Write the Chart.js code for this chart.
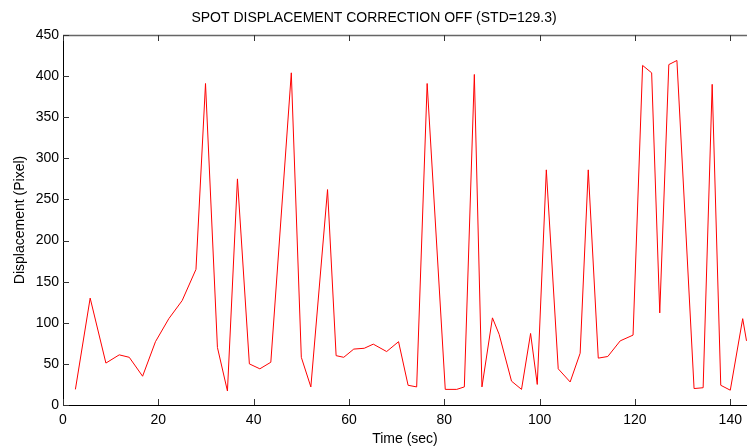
<!DOCTYPE html>
<html>
<head>
<meta charset="utf-8">
<script src="https://cdn.jsdelivr.net/npm/chart.js@4.4.0/dist/chart.umd.min.js"></script>
<style>
  body { margin: 0; background: #fff; }
  #wrap { width: 749px; height: 448px; }
</style>
</head>
<body>
<div id="wrap"><canvas id="spotChart"></canvas></div>
<script>
const timeSec = [2.6, 5.7, 9.0, 11.8, 13.9, 16.7, 19.4, 22.2, 25.0, 27.9,
    29.9, 32.4, 34.5, 36.6, 39.1, 41.3, 43.6, 47.9, 50.0, 52.0,
    55.5, 57.3, 58.9, 61.0, 63.2, 65.1, 67.9, 70.4, 72.4, 74.2,
    76.4, 80.2, 82.6, 84.2, 86.3, 87.9, 90.1, 91.5, 94.1, 96.2,
    98.1, 99.5, 101.4, 103.9, 106.4, 108.5, 110.2, 112.3, 114.3, 116.9,
    119.6, 121.6, 123.5, 125.2, 127.1, 128.8, 132.4, 134.3, 136.2, 138.0,
    140.0, 142.6, 143.4]
const displacement = [19, 130, 51, 61, 58, 35, 77, 105, 127, 165,
    391, 70, 17, 275, 50, 44, 52, 404, 58, 22,
    262, 60, 58, 68, 69, 74, 65, 77, 24, 22,
    391, 19, 19, 22, 402, 22, 106, 86, 29, 19,
    87, 25, 286, 44, 28, 63, 286, 57, 59, 78,
    85, 413, 404, 112, 414, 419, 20, 21, 390, 24,
    18, 105, 78]
const xTicks = [0, 20, 40, 60, 80, 100, 120, 140]
const yTicks = [0, 50, 100, 150, 200, 250, 300, 350, 400, 450]

const font = 'Arial, "Liberation Sans", Helvetica, sans-serif'

// matlab style box: inward ticks + top border
const boxPlugin = {
    id: 'box',
    afterDraw(chart) {
        const {ctx, chartArea: a, scales} = chart
        ctx.save()
        ctx.strokeStyle = '#666'
        ctx.lineWidth = 1.5
        ctx.beginPath()
        ctx.moveTo(a.left, a.top + 0.5)
        ctx.lineTo(a.right, a.top + 0.5)
        ctx.stroke()
        ctx.strokeStyle = '#333'
        ctx.lineWidth = 1
        ctx.beginPath()
        xTicks.forEach(v => {
            const x = Math.round(scales.x.getPixelForValue(v)) + 0.5
            ctx.moveTo(x, a.bottom); ctx.lineTo(x, a.bottom - 6)
            ctx.moveTo(x, a.top); ctx.lineTo(x, a.top + 6)
        })
        yTicks.forEach(v => {
            const y = Math.round(scales.y.getPixelForValue(v)) + 0.5
            ctx.moveTo(a.left, y); ctx.lineTo(a.left + 6, y)
        })
        ctx.stroke()
        ctx.restore()
    }
}

const spotChart = new Chart(document.getElementById('spotChart').getContext('2d'), {
    type: 'line',
    data: {
        datasets: [{
            data: timeSec.map((t, i) => ({x: t, y: displacement[i]})),
            borderColor: '#ff0000',
            borderWidth: 1,
            pointRadius: 0,
            tension: 0,
            fill: false
        }]
    },
    options: {
        animation: false,
        responsive: true,
        maintainAspectRatio: false,
        layout: {padding: {left: 0, right: 1, top: 0, bottom: 0}},
        plugins: {
            legend: {display: false},
            tooltip: {enabled: false},
            title: {
                display: true,
                text: 'SPOT DISPLACEMENT CORRECTION OFF (STD=129.3)',
                color: '#000',
                font: {family: font, size: 14, weight: 'normal', lineHeight: 1.2},
                padding: {top: 9.5, bottom: 8.7}
            }
        },
        scales: {
            x: {
                type: 'linear',
                min: 0,
                max: 143.5,
                afterFit: s => { s.height = 43 },
                afterBuildTicks: s => { s.ticks = xTicks.map(v => ({value: v})) },
                grid: {display: true, drawOnChartArea: false, drawTicks: false},
                border: {color: '#000', width: 1},
                ticks: {color: '#000', padding: 7, maxRotation: 0, font: {family: font, size: 14}},
                title: {display: true, text: 'Time (sec)', color: '#000',
                    font: {family: font, size: 14, lineHeight: 1.2}, padding: {top: 2.6, bottom: 0}}
            },
            y: {
                min: 0,
                max: 450,
                afterFit: s => { s.width = 63 },
                afterBuildTicks: s => { s.ticks = yTicks.map(v => ({value: v})) },
                grid: {display: true, drawOnChartArea: false, drawTicks: false},
                border: {color: '#000', width: 1},
                ticks: {color: '#000', padding: 4, font: {family: font, size: 14}},
                title: {display: true, text: 'Displacement (Pixel)', color: '#000',
                    font: {family: font, size: 14, lineHeight: 1.2}, padding: {top: 11.6, bottom: 0}}
            }
        }
    },
    plugins: [boxPlugin]
});
</script>
</body>
</html>
